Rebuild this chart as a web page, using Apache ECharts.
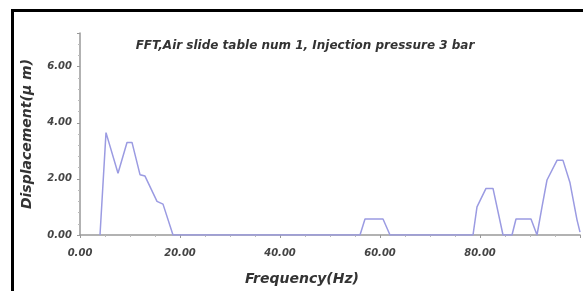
<!DOCTYPE html>
<html>
<head>
<meta charset="utf-8">
<script src="https://cdn.jsdelivr.net/npm/echarts@6/dist/echarts.min.js"></script>
<style>
html,body{margin:0;padding:0;background:#fff;}
#tu{width:583px;height:291px;}
</style>
</head>
<body>
<div id="tu"></div>
<script>
// frequency (Hz) and displacement
var freqList = [4.0, 5.2, 7.6, 9.4, 10.4, 12.0, 13.0, 15.4, 16.6, 18.6,
  56.0, 57.0, 60.6, 62.0,
  78.6, 79.4, 81.2, 82.6, 84.6,
  86.4, 87.2, 90.2, 91.4,
  92.4, 93.4, 95.4, 96.6, 98.0, 99.4, 100.0];
var dispList = [0, 3.65, 2.2, 3.3, 3.3, 2.15, 2.1, 1.2, 1.1, 0,
  0, 0.57, 0.57, 0,
  0, 1.0, 1.66, 1.66, 0,
  0, 0.57, 0.57, 0,
  1.0, 1.96, 2.66, 2.66, 1.86, 0.54, 0.1];

var points = [];
for (i = 0; i < freqList.length; i++) {
  points.push([freqList[i], dispList[i]]);
}

var fam = 'DejaVu Sans';

echarts.init(document.getElementById('tu')).setOption({
  animation: false,
  title: {
    text: 'FFT,Air slide table num 1, Injection pressure 3 bar',
    left: 300, top: 35, textAlign: 'center',
    textStyle: {fontFamily: fam, fontWeight: 'bold', fontStyle: 'italic', fontSize: 12, color: '#333'}
  },
  grid: {left: 80, right: 3, top: 33, bottom: 56},
  xAxis: {
    type: 'value', min: 0, max: 100, interval: 20,
    name: 'Frequency(Hz)', nameLocation: 'middle', nameGap: 37,
    nameTextStyle: {fontFamily: fam, fontWeight: 'bold', fontStyle: 'italic', fontSize: 14, color: '#333', padding: [0, 56, 0, 0]},
    axisLine: {lineStyle: {color: '#999', width: 1.5}},
    axisTick: {length: 3, lineStyle: {color: '#999'}},
    minorTick: {show: true, splitNumber: 4, length: 2, lineStyle: {color: '#bbb'}},
    splitLine: {show: false},
    axisLabel: {
      margin: 13, fontSize: 10, fontFamily: fam, fontWeight: 'bold', fontStyle: 'italic', color: '#444',
      showMaxLabel: false,
      formatter: function (v) { return v.toFixed(2); }
    }
  },
  yAxis: {
    type: 'value', min: 0, max: 7.2, interval: 2,
    name: 'Displacement(μ m)', nameLocation: 'middle', nameGap: 46,
    nameTextStyle: {fontFamily: fam, fontWeight: 'bold', fontStyle: 'italic', fontSize: 14, color: '#333'},
    axisLine: {show: true, lineStyle: {color: '#999', width: 1.5}},
    axisTick: {show: true, length: 3, lineStyle: {color: '#999'}},
    minorTick: {show: true, splitNumber: 5, length: 2, lineStyle: {color: '#bbb'}},
    splitLine: {show: false},
    axisLabel: {
      margin: 8, fontSize: 10, fontFamily: fam, fontWeight: 'bold', fontStyle: 'italic', color: '#444',
      showMaxLabel: false,
      formatter: function (v) { return v.toFixed(2); }
    }
  },
  series: [{
    type: 'line',
    data: points,
    showSymbol: false,
    lineStyle: {color: '#9b9be2', width: 1.5}
  }],
  graphic: [
    {type: 'line', shape: {x1: 11, y1: 10.5, x2: 583, y2: 10.5}, style: {stroke: '#000', lineWidth: 3}},
    {type: 'line', shape: {x1: 12.5, y1: 9, x2: 12.5, y2: 291}, style: {stroke: '#000', lineWidth: 3}}
  ]
});
</script>
</body>
</html>
